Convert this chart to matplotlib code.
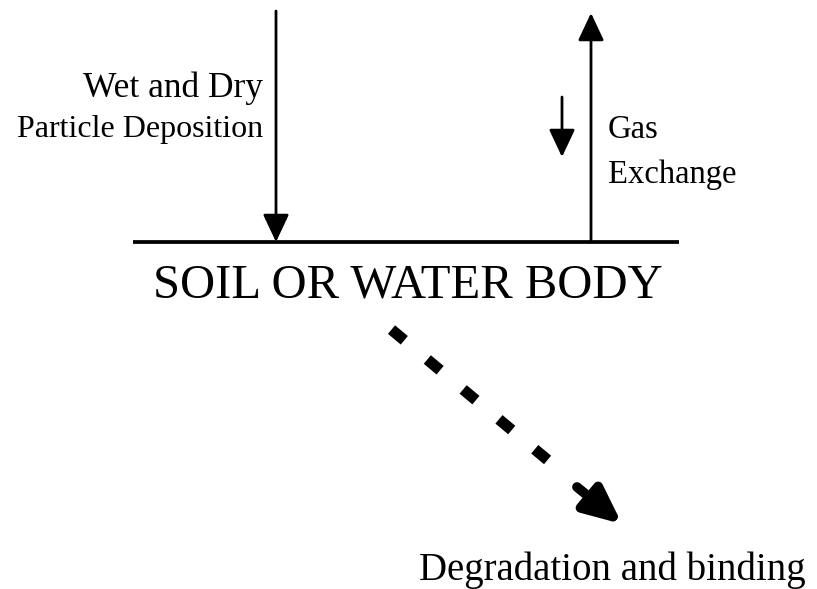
import matplotlib.pyplot as plt

surface_label = 'SOIL OR WATER BODY'
deposition_label = ['Wet and Dry', 'Particle Deposition']
gas_label = ['Gas', 'Exchange']
degradation_label = 'Degradation and binding'

plt.rcParams['font.family'] = ['Liberation Serif', 'DejaVu Serif']

fig = plt.figure(figsize=(8.17, 5.89), dpi=100)
ax = fig.add_axes([0, 0, 1, 1])
ax.set_xlim(0, 817)
ax.set_ylim(589, 0)
ax.axis('off')

# ground line
ax.plot([133, 679], [242, 242], color='black', lw=2.7, solid_capstyle='butt')

head = dict(arrowstyle='-|>,head_length=0.85,head_width=0.4', color='black',
            lw=2, shrinkA=0, shrinkB=0, mutation_scale=20)

# deposition arrow (down)
ax.annotate('', xy=(276, 242), xytext=(276, 11), arrowprops=head)
# gas exchange (up) and small down arrow
ax.annotate('', xy=(591, 13), xytext=(591, 242), arrowprops=head)
ax.annotate('', xy=(562, 157), xytext=(562, 97), arrowprops=head)

ax.text(263, 97, deposition_label[0], ha='right', va='baseline', fontsize=25.5)
ax.text(263, 137, deposition_label[1], ha='right', va='baseline', fontsize=23)
ax.text(608, 138, gas_label[0], ha='left', va='baseline', fontsize=23.5)
ax.text(608, 183, gas_label[1], ha='left', va='baseline', fontsize=23.5)

ax.text(408, 297, surface_label, ha='center', va='baseline', fontsize=35)

# dashed degradation arrow
ax.plot([391.5, 556], [329.6, 467], color='black', lw=8,
        linestyle=(0, (1.5, 2.7)), dash_capstyle='butt')
ax.annotate('', xy=(622, 524), xytext=(577, 487),
            arrowprops=dict(arrowstyle='-|>,head_length=1.1,head_width=0.5',
                            color='black', lw=7, shrinkA=0, shrinkB=0,
                            mutation_scale=20))

ax.text(612, 580, degradation_label, ha='center', va='baseline', fontsize=28)

fig.savefig('out.png', dpi=100, facecolor='white')
